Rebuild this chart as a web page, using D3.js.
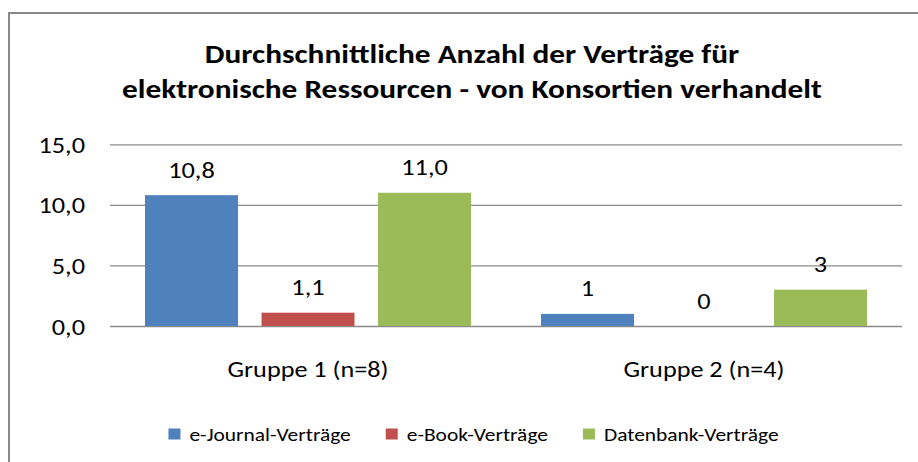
<!DOCTYPE html>
<html><head><meta charset="utf-8">
<script src="https://cdn.jsdelivr.net/npm/d3@7"></script>
<style>html,body{margin:0;padding:0;background:#fff;overflow:hidden}</style>
</head><body>
<script>
const categories = ["Gruppe 1 (n=8)", "Gruppe 2 (n=4)"];
const seriesNames = ["e-Journal-Verträge", "e-Book-Verträge", "Datenbank-Verträge"];
const eJournal = [10.8, 1];
const eBook = [1.1, 0];
const datenbank = [11.0, 3];
const labelDecimals = [1, 0];
const yTicks = [0, 5, 10, 15];
const titleLines = ["Durchschnittliche Anzahl der Verträge für", "elektronische Ressourcen - von Konsortien verhandelt"];
const colors = ["#4F81BD", "#C0504D", "#9BBB59"];

const W = 918, H = 462;
const FONT = "Carlito, Calibri, Lato, 'Liberation Sans', sans-serif";
const seriesValues = [eJournal, eBook, datenbank];
const data = categories.map((c, i) => ({
  cat: c, i,
  vals: seriesNames.map((s, k) => ({ s, k, v: seriesValues[k][i], dec: labelDecimals[i] }))
}));

// horizontally widen text (reference glyphs are wide relative to their height)
function stretch(sel, k) {
  sel.each(function () {
    const l = this.getComputedTextLength();
    this.setAttribute("textLength", l * k);
    this.setAttribute("lengthAdjust", "spacingAndGlyphs");
  });
}

const svg = d3.select("body").append("svg").attr("width", W).attr("height", H)
  .style("font-family", FONT);

svg.append("rect").attr("x", 9).attr("y", 13).attr("width", 940).attr("height", 470)
  .attr("fill", "#fff").attr("stroke", "#898989").attr("stroke-width", 2);

const cx = 472;
const title = svg.append("g").selectAll("text").data(titleLines).join("text")
  .attr("x", cx).attr("y", (d, i) => 63.3 + i * 35)
  .attr("text-anchor", "middle").attr("font-weight", "bold").attr("font-size", 26)
  .attr("fill", "#000").text(d => d);
stretch(title, 1.205);

const plotL = 110, plotR = 902, plotT = 144.3, plotB = 326;
const y = d3.scaleLinear().domain([0, 15]).range([plotB, plotT]);
const x0 = d3.scaleBand().domain(categories).range([plotL, plotR]).paddingInner(0.1768).paddingOuter(0.0884);
const x1 = d3.scaleBand().domain(seriesNames).range([0, x0.bandwidth()]).paddingInner(0.202);

const fmt = (v, dec) => d3.format("." + dec + "f")(v).replace(".", ",");

const yAxis = svg.append("g").attr("transform", `translate(${plotL},0)`)
  .call(d3.axisLeft(y).tickValues(yTicks).tickSize(-(plotR - plotL)).tickPadding(25)
    .tickFormat(d => fmt(d, 1)));
yAxis.select(".domain").remove();
yAxis.selectAll("line").attr("stroke", "#8a8a8a").attr("stroke-width", 1.3);
yAxis.selectAll("text").attr("font-size", 22.3).attr("dy", "0.36em").attr("fill", "#000").style("font-family", FONT);
stretch(yAxis.selectAll("text"), 1.18);

const groups = svg.append("g").selectAll("g").data(data).join("g")
  .attr("transform", d => `translate(${x0(d.cat)},0)`);
groups.selectAll("rect").data(d => d.vals).join("rect")
  .attr("x", d => x1(d.s)).attr("width", x1.bandwidth())
  .attr("y", d => y(d.v)).attr("height", d => plotB - y(d.v))
  .attr("fill", d => colors[d.k]);
const labels = groups.selectAll("text").data(d => d.vals).join("text")
  .attr("x", d => x1(d.s) + x1.bandwidth() / 2).attr("y", d => y(d.v) - 17.5)
  .attr("text-anchor", "middle").attr("font-size", 22.3).attr("fill", "#000")
  .text(d => fmt(d.v, d.dec));
stretch(labels, 1.18);

const xAxis = svg.append("g").attr("transform", `translate(0,${plotB})`)
  .call(d3.axisBottom(x0).tickSize(0).tickPadding(0));
xAxis.select(".domain").remove();
xAxis.selectAll("text").attr("y", 50.5).attr("dy", 0).attr("font-size", 22.3).attr("fill", "#000").style("font-family", FONT);
stretch(xAxis.selectAll("text"), 1.175);

// legend
const leg = svg.append("g");
const items = leg.selectAll("g").data(seriesNames).join("g");
items.append("rect").attr("width", 12).attr("height", 11).attr("y", 428.5).attr("fill", (d, i) => colors[i]);
const legText = items.append("text").attr("x", 21).attr("y", 440.5).attr("font-size", 18).attr("fill", "#000").text(d => d);
stretch(legText, 1.19);
const widths = [];
legText.each(function () { widths.push(21 + +this.getAttribute("textLength")); });
const gap = 35;
const total = d3.sum(widths) + gap * (widths.length - 1);
let xs = cx + 1.5 - total / 2;
items.attr("transform", (d, i) => { const t = `translate(${xs},0)`; xs += widths[i] + gap; return t; });
</script>
</body></html>
